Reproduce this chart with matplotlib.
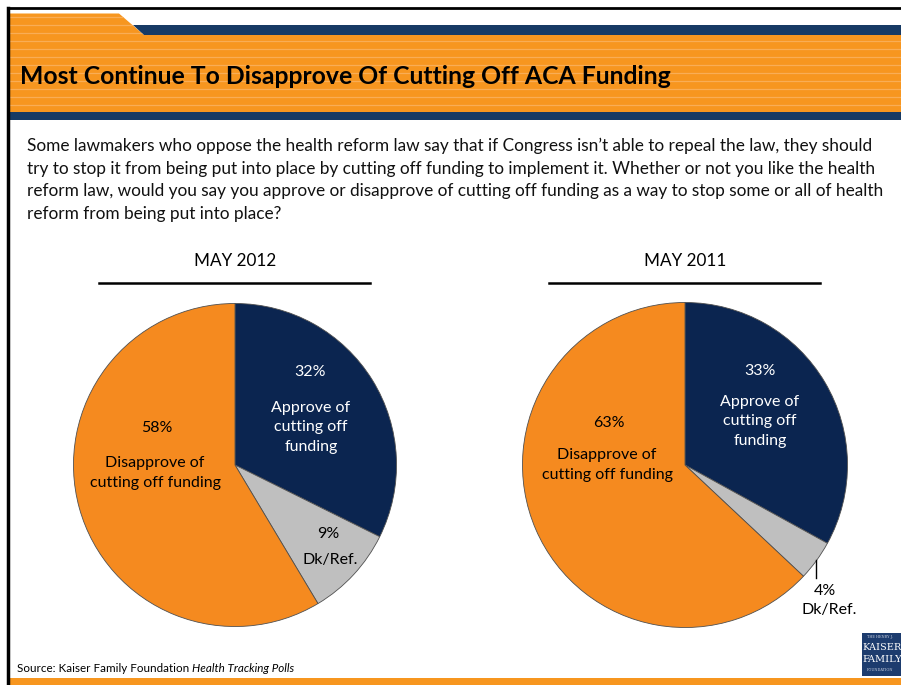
import matplotlib
matplotlib.use("Agg")
import matplotlib.pyplot as plt
from matplotlib.patches import Rectangle, Polygon

# poll results, slices go clockwise from 12 o'clock
slice_names = ["Approve of\ncutting off\nfunding", "Dk/Ref.", "Disapprove of\ncutting off funding"]
may2012 = [32, 9, 58]
may2011 = [33, 4, 63]
panel_titles = ["MAY 2012", "MAY 2011"]

title = "Most Continue To Disapprove Of Cutting Off ACA Funding"
question = ("Some lawmakers who oppose the health reform law say that if Congress isn\u2019t able to repeal the law, they should\n"
            "try to stop it from being put into place by cutting off funding to implement it. Whether or not you like the health\n"
            "reform law, would you say you approve or disapprove of cutting off funding as a way to stop some or all of health\n"
            "reform from being put into place?")

navy = "#0b2550"
orange = "#f58a1f"
grey = "#bfbfbf"
band_orange = "#f7961f"
band_navy = "#173a64"
colors = [navy, grey, orange]

plt.rcParams["font.family"] = ["Lato", "DejaVu Sans"]

W, H = 901, 685
fig = plt.figure(figsize=(W / 100, H / 100), dpi=100)
bg = fig.add_axes([0, 0, 1, 1])
bg.set_xlim(0, W)
bg.set_ylim(H, 0)
bg.axis("off")
bg.set_zorder(5)
bg.patch.set_visible(False)

# header band with faint stripes
band = Polygon([(9, 13.5), (119, 13.5), (144, 35), (W, 35), (W, 112), (9, 112)],
               closed=True, color=band_orange, lw=0)
bg.add_patch(band)
for yy in range(17, 112, 8):
    ln, = bg.plot([9, W], [yy, yy], color="#f9ad55", lw=0.9)
    ln.set_clip_path(band)
bg.add_patch(Polygon([(133, 25), (W, 25), (W, 35), (144, 35)], closed=True, color=band_navy, lw=0))
bg.add_patch(Rectangle((9, 112), W - 9, 8, color=band_navy, lw=0))

# frame
bg.plot([8, W], [8, 8], color="black", lw=2)
bg.plot([8, 8], [8, H], color="black", lw=2.5)
bg.add_patch(Rectangle((9, 678), W - 9, 7, color=band_orange, lw=0))

bg.text(20, 76, title, fontsize=17.8, fontweight="bold", va="center", ha="left", color="black")
bg.text(27, 138, question, fontsize=12.4, va="top", ha="left", linespacing=1.5, color="#111111")

# pie panels
centers = [(235, 465, 162), (685, 465, 163)]
for (cx, cy, r), vals, ttl in zip(centers, [may2012, may2011], panel_titles):
    ax = fig.add_axes([(cx - r) / W, (H - cy - r) / H, 2 * r / W, 2 * r / H])
    ax.pie(vals, colors=colors, startangle=90, counterclock=False,
           wedgeprops=dict(edgecolor="#505050", linewidth=0.6))
    ax.set_xlim(-1.003, 1.003)
    ax.set_ylim(-1.003, 1.003)
    ax.axis("off")
    bg.text(cx, 261, ttl, fontsize=12.3, ha="center", va="center")
    bg.plot([cx - 136, cx + 135], [283, 283], color="black", lw=1.8)

fs = 11.5
ls = 1.5
# slice labels, May 2012
bg.text(310, 372, f"{may2012[0]}%", color="white", fontsize=fs, ha="center", va="center")
bg.text(311, 427, slice_names[0], color="white", fontsize=fs, ha="center", va="center", linespacing=ls)
bg.text(157, 428, f"{may2012[2]}%", color="black", fontsize=fs, ha="center", va="center")
bg.text(155, 473, slice_names[2], color="black", fontsize=fs, ha="center", va="center", linespacing=ls)
bg.text(328, 534, f"{may2012[1]}%", color="black", fontsize=fs, ha="center", va="center")
bg.text(330, 560, slice_names[1], color="black", fontsize=fs, ha="center", va="center")

# slice labels, May 2011
bg.text(760, 371, f"{may2011[0]}%", color="white", fontsize=fs, ha="center", va="center")
bg.text(760, 421, slice_names[0], color="white", fontsize=fs, ha="center", va="center", linespacing=ls)
bg.text(609, 423, f"{may2011[2]}%", color="black", fontsize=fs, ha="center", va="center")
bg.text(607, 465, slice_names[2], color="black", fontsize=fs, ha="center", va="center", linespacing=ls)
bg.plot([816, 816], [560, 578], color="black", lw=1)
bg.text(825, 591, f"{may2011[1]}%", color="black", fontsize=fs, ha="center", va="center")
bg.text(829, 610, slice_names[1], color="black", fontsize=fs, ha="center", va="center")

# source line, italic part placed right after the plain part
src = bg.text(17, 668, "Source: Kaiser Family Foundation ", fontsize=8.4, ha="left", va="center")
renderer = fig.canvas.get_renderer()
ext = src.get_window_extent(renderer)
bg.text(ext.x1, 668, "Health Tracking Polls", fontsize=8.4, style="italic", ha="left", va="center")

# logo
bg.add_patch(Rectangle((862, 633), 39, 43, color="#1d3c6e", lw=0))
bg.text(880, 637, "THE HENRY J.", color="#c8d0e0", fontsize=2.5, ha="center", va="center", family="DejaVu Serif")
bg.text(882, 647, "KAISER", color="white", fontsize=7, ha="center", va="center", family="DejaVu Serif")
bg.text(882, 659, "FAMILY", color="white", fontsize=7, ha="center", va="center", family="DejaVu Serif")
bg.text(880, 670, "FOUNDATION", color="#c8d0e0", fontsize=2.5, ha="center", va="center", family="DejaVu Serif")

fig.savefig("out.png", dpi=100)
